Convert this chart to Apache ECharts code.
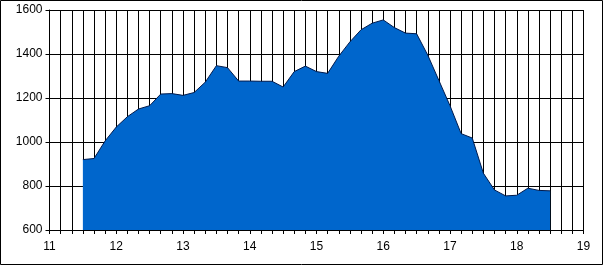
<!DOCTYPE html>
<html>
<head>
<meta charset="utf-8">
<script src="https://cdn.jsdelivr.net/npm/echarts@6/dist/echarts.min.js"></script>
<style>
  html, body { margin: 0; padding: 0; background: #fff; }
  #chart { width: 603px; height: 265px; }
</style>
</head>
<body>
<div id="chart"></div>
<script>
// Sample times (hh:mm) and values
var times = ["11:30","11:40","11:50","12:00","12:10","12:20","12:30","12:40","12:50","13:00",
             "13:10","13:20","13:30","13:40","13:50","14:00","14:10","14:20","14:30","14:40",
             "14:50","15:00","15:10","15:20","15:30","15:40","15:50","16:00","16:10","16:20",
             "16:30","16:40","16:50","17:00","17:10","17:20","17:30","17:40","17:50","18:00",
             "18:10","18:20","18:30"];
var values = [920, 925, 1005, 1068, 1115, 1150, 1165, 1218, 1220, 1212,
              1225, 1272, 1347, 1338, 1277, 1277, 1276, 1276, 1250, 1320,
              1345, 1320, 1312, 1390, 1455, 1510, 1540, 1555, 1520, 1495,
              1492, 1395, 1280, 1165, 1038, 1018, 858, 782, 755, 758,
              790, 780, 778];
var xTicks = [11, 12, 13, 14, 15, 16, 17, 18, 19];
var yTicks = [600, 800, 1000, 1200, 1400, 1600];

function toHours(s) { var p = s.split(":"); return +p[0] + (+p[1]) / 60; }
var seriesData = times.map(function (t, i) { return [toHours(t), values[i]]; });

var chart = echarts.init(document.getElementById('chart'), null, { renderer: 'canvas' });
var font = { fontFamily: 'Liberation Sans, Arial, sans-serif', fontSize: 12, color: '#000' };
chart.setOption({
  animation: false,
  backgroundColor: '#fff',
  grid: { left: 49.5, top: 10, width: 534, height: 220, containLabel: false },
  xAxis: {
    type: 'value',
    min: xTicks[0], max: xTicks[xTicks.length - 1], interval: 1,
    axisLine: { show: true, onZero: false, lineStyle: { color: '#000', width: 1 } },
    axisTick: { show: true, length: 4, lineStyle: { color: '#000' } },
    minorTick: { show: true, splitNumber: 6, length: 4, lineStyle: { color: '#000' } },
    splitLine: { show: true, lineStyle: { color: '#000', width: 1 } },
    minorSplitLine: { show: true, lineStyle: { color: '#000', width: 1 } },
    axisLabel: Object.assign({ margin: 11, formatter: function (v) { return String(v); } }, font)
  },
  yAxis: {
    type: 'value',
    min: yTicks[0], max: yTicks[yTicks.length - 1], interval: 200,
    axisLine: { show: true, lineStyle: { color: '#000', width: 1 } },
    axisTick: { show: true, length: 4, lineStyle: { color: '#000' } },
    splitLine: { show: true, lineStyle: { color: '#000', width: 1 } },
    axisLabel: Object.assign({ margin: 7, formatter: function (v) { return String(v); } }, font)
  },
  series: [{
    type: 'line',
    data: seriesData,
    showSymbol: false,
    symbol: 'none',
    lineStyle: { color: '#001a4d', width: 1 },
    areaStyle: { color: '#0066CC', opacity: 1, origin: 'start' },
    z: 3
  }],
  graphic: [{
    type: 'rect',
    shape: { x: 0.5, y: 0.5, width: 602, height: 264 },
    style: { fill: null, stroke: '#000', lineWidth: 1 },
    silent: true
  }]
});
</script>
</body>
</html>
